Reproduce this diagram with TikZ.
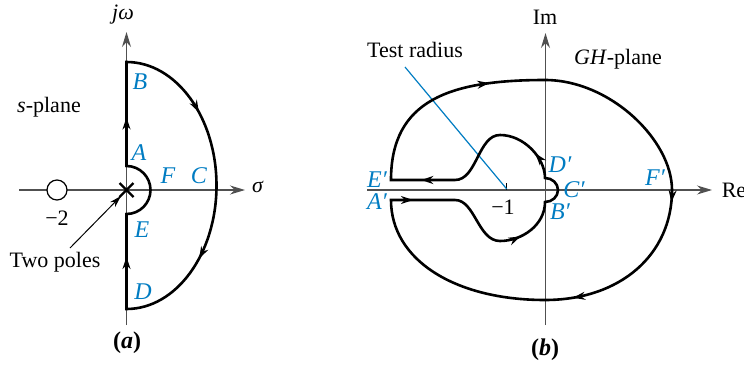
\documentclass[tikz,border=0pt]{standalone}
\usepackage{fontspec}
\setmainfont{Liberation Serif}
\usetikzlibrary{arrows.meta,decorations.markings}
\definecolor{lblue}{RGB}{0,124,194}
\definecolor{axgray}{RGB}{80,80,80}
\newcommand\ctip{\arrow{Stealth[length=6pt,width=4pt]}}
\begin{document}
\begin{tikzpicture}[x=0.5pt,y=-0.5pt,
  axis/.style={draw=axgray,line width=0.6pt,-{Stealth[length=7.5pt,width=4.5pt]}},
  contour/.style={draw=black,line width=1.3pt,line join=miter},
  lbl/.style={text=lblue,font=\itshape\fontsize{12}{14}\selectfont,inner sep=0pt},
  txt/.style={font=\fontsize{11}{13}\selectfont,inner sep=0pt},
  captxt/.style={font=\fontsize{12}{14}\selectfont\bfseries,inner sep=0pt}]
\useasboundingbox (0,0) rectangle (744,364);
% ---------------- (a) ----------------
\draw[axis] (126.5,325) -- (126.5,32);
\draw[axis] (19,190) -- (245,190);
\draw[line width=0.6pt,fill=white] (57,190) circle[radius=10];
\draw[contour,postaction={decorate},decoration={markings,
   mark=at position 26pt with {\ctip},
   mark=at position 109.5pt with {\ctip},
   mark=at position 183.5pt with {\ctip},
   mark=at position 259.5pt with {\ctip}}]
  (126.5,309) -- (126.5,214) arc[start angle=90,end angle=-90,radius=24]
  -- (126.5,62) arc[start angle=-90,end angle=90,x radius=90,y radius=123.5] -- cycle;
\draw[line width=1.2pt] (119.5,183) -- (133.5,197) (119.5,197) -- (133.5,183);
\node[txt] (jw) at (123,15) {\textit{jω}};
\node[txt] (sigma) at (258,187) {\textit{σ}};
\node[txt] (splane) at (49,107) {\textit{s}-plane};
\node[txt] (m2) at (57,218) {−2};
\node[txt] (poles) at (55,262) {Two poles};
\coordinate (polesfrom) at (70,248);
\coordinate (polesto) at (121,196);
\draw[line width=0.5pt,-{Stealth[length=6pt,width=3.5pt]}] (polesfrom) -- (polesto);
\node[lbl] (B) at (140,82) {B};
\node[lbl] (A) at (139,153) {A};
\node[lbl] (F) at (168,176) {F};
\node[lbl] (C) at (199,176) {C};
\node[lbl] (E) at (142,230) {E};
\node[lbl] (D) at (143,292) {D};
\node[captxt] (capa) at (127,343) {(\textit{a})};
% ---------------- (b) ----------------
\draw[axis] (545.5,325) -- (545.5,33);
\draw[axis] (367,190) -- (712,190);
\draw[line width=0.5pt] (506.7,183) -- (506.7,190);
\coordinate (m1pt) at (506.7,189);
\coordinate (trfrom) at (405,67);
\draw[draw=lblue,line width=0.6pt] (trfrom) -- (m1pt);
\draw[contour,postaction={decorate},decoration={markings,
   mark=at position 11pt with {\ctip},
   mark=at position 74.5pt with {\ctip},
   mark=at position 130pt with {\ctip},
   mark=at position 201pt with {\ctip},
   mark=at position 293.5pt with {\ctip},
   mark=at position 419pt with {\ctip},
   mark=at position 493pt with {\ctip}}]
  (391,200) -- (455,200) .. controls (475,200) and (478,241) .. (500,241)
  .. controls (522,241) and (545,225) .. (545,202)
  arc[start angle=90,end angle=-90,x radius=13,y radius=12]
  .. controls (545,158) and (524,135) .. (500,135)
  .. controls (478,135) and (477,180) .. (455,180) -- (391,180)
  .. controls (391,100) and (450,80) .. (545,80)
  .. controls (610,80) and (672,140) .. (672,190)
  .. controls (672,255) and (620,300) .. (545,300)
  .. controls (455,300) and (391,260) .. (391,200) -- cycle;
\node[txt] (Im) at (545,17) {Im};
\node[txt] (Re) at (734,190) {Re};
\node[txt] (test) at (415,50) {Test radius};
\node[txt] (gh) at (618,59) {\textit{GH}-plane};
\node[txt] (m1) at (503,207) {−1};
\node[lbl] (Ep) at (377,180) {E′};
\node[lbl] (Ap) at (377,202) {A′};
\node[lbl] (Dp) at (560,165) {D′};
\node[lbl] (Cp) at (574,190) {C′};
\node[lbl] (Bp) at (560,212) {B′};
\node[lbl] (Fp) at (655,178) {F′};
\node[captxt] (capb) at (545,350) {(\textit{b})};
\end{tikzpicture}
\end{document}
